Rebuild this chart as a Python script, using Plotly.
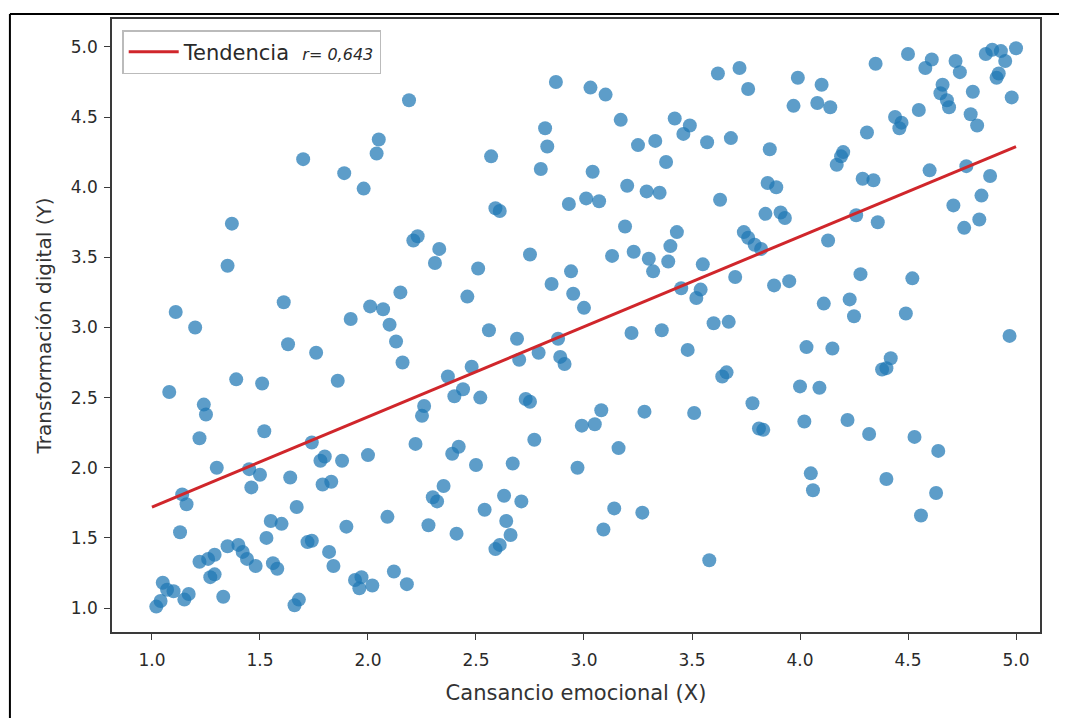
import plotly.graph_objects as go

# Scatter data (Cansancio emocional X, Transformación digital Y)
x_vals = [
    1.02, 1.04, 1.05, 1.07, 1.10, 1.15, 1.17, 1.08, 1.11, 1.13, 1.14, 1.16, 1.20, 1.22, 1.24, 1.25,
    1.22, 1.26, 1.27, 1.29, 1.29, 1.30, 1.33, 1.35, 1.37, 1.35, 1.39, 1.40, 1.42, 1.44, 1.45, 1.46,
    1.48, 1.50, 1.51, 1.52,
    1.53, 1.55, 1.56, 1.58, 1.60, 1.61, 1.63, 1.64, 1.66, 1.68, 1.67, 1.70, 1.72, 1.74, 1.74, 1.76,
    1.78, 1.80, 1.79, 1.83, 1.82, 1.84, 1.86, 1.88, 1.89, 1.90, 1.92, 1.94, 1.96, 1.97, 1.98, 2.00,
    2.01, 2.02, 2.04, 2.05, 2.07, 2.09, 2.10, 2.12, 2.13, 2.15, 2.16, 2.18, 2.19, 2.21, 2.23, 2.22,
    2.25, 2.26, 2.28, 2.30, 2.32, 2.31, 2.33, 2.35, 2.37, 2.39, 2.40, 2.41, 2.42, 2.44, 2.46, 2.48,
    2.50, 2.51,
    2.52, 2.54, 2.56, 2.57, 2.59, 2.61, 2.59, 2.61, 2.63, 2.64, 2.66, 2.67, 2.69, 2.70, 2.71, 2.73,
    2.75, 2.75, 2.77, 2.79, 2.80, 2.82, 2.83, 2.85, 2.87, 2.88, 2.89, 2.91, 2.93, 2.94, 2.95, 2.97,
    2.99,
    3.00, 3.01, 3.03, 3.04, 3.05, 3.07, 3.08, 3.09, 3.10, 3.13, 3.14, 3.16, 3.17, 3.19, 3.20, 3.22,
    3.23, 3.25, 3.27, 3.28, 3.29, 3.30, 3.32, 3.33, 3.35, 3.36, 3.38, 3.39, 3.40, 3.42, 3.43, 3.45,
    3.46, 3.48, 3.49,
    3.51, 3.52, 3.54, 3.55, 3.57, 3.58, 3.60, 3.62, 3.63, 3.64, 3.66, 3.67, 3.68, 3.70, 3.72, 3.74,
    3.76, 3.76, 3.78, 3.79, 3.81, 3.83, 3.82, 3.84, 3.85, 3.86, 3.88, 3.89, 3.91, 3.93, 3.95, 3.97,
    3.99,
    4.00, 4.02, 4.03, 4.05, 4.06, 4.08, 4.09, 4.10, 4.11, 4.13, 4.14, 4.15, 4.17, 4.19, 4.20, 4.22,
    4.23, 4.25, 4.26, 4.28, 4.29, 4.31, 4.32, 4.34, 4.35, 4.36, 4.38, 4.40, 4.40, 4.42, 4.44, 4.46,
    4.47, 4.49, 4.50,
    4.52, 4.53, 4.55, 4.56, 4.58, 4.60, 4.61, 4.63, 4.64, 4.65, 4.66, 4.68, 4.69, 4.71, 4.72, 4.74,
    4.76, 4.77, 4.79, 4.80, 4.82, 4.83, 4.84, 4.86, 4.88, 4.89, 4.91, 4.92, 4.93, 4.95, 4.97, 4.98,
    5.00,
]
y_vals = [
    1.01, 1.05, 1.18, 1.13, 1.12, 1.06, 1.10, 2.54, 3.11, 1.54, 1.81, 1.74, 3.00, 2.21, 2.45, 2.38,
    1.33, 1.35, 1.22, 1.24, 1.38, 2.00, 1.08, 3.44, 3.74, 1.44, 2.63, 1.45, 1.40, 1.35, 1.99, 1.86,
    1.30, 1.95, 2.60, 2.26,
    1.50, 1.62, 1.32, 1.28, 1.60, 3.18, 2.88, 1.93, 1.02, 1.06, 1.72, 4.20, 1.47, 1.48, 2.18, 2.82,
    2.05, 2.08, 1.88, 1.90, 1.40, 1.30, 2.62, 2.05, 4.10, 1.58, 3.06, 1.20, 1.14, 1.22, 3.99, 2.09,
    3.15, 1.16, 4.24, 4.34, 3.13, 1.65, 3.02, 1.26, 2.90, 3.25, 2.75, 1.17, 4.62, 3.62, 3.65, 2.17,
    2.37, 2.44, 1.59, 1.79, 1.76, 3.46, 3.56, 1.87, 2.65, 2.10, 2.51, 1.53, 2.15, 2.56, 3.22, 2.72,
    2.02, 3.42,
    2.50, 1.70, 2.98, 4.22, 1.42, 1.45, 3.85, 3.83, 1.80, 1.62, 1.52, 2.03, 2.92, 2.77, 1.76, 2.49,
    2.47, 3.52, 2.20, 2.82, 4.13, 4.42, 4.29, 3.31, 4.75, 2.92, 2.79, 2.74, 3.88, 3.40, 3.24, 2.00,
    2.30,
    3.14, 3.92, 4.71, 4.11, 2.31, 3.90, 2.41, 1.56, 4.66, 3.51, 1.71, 2.14, 4.48, 3.72, 4.01, 2.96,
    3.54, 4.30, 1.68, 2.40, 3.97, 3.49, 3.40, 4.33, 3.96, 2.98, 4.18, 3.47, 3.58, 4.49, 3.68, 3.28,
    4.38, 2.84, 4.44,
    2.39, 3.21, 3.27, 3.45, 4.32, 1.34, 3.03, 4.81, 3.91, 2.65, 2.68, 3.04, 4.35, 3.36, 4.85, 3.68,
    3.64, 4.70, 2.46, 3.59, 2.28, 2.27, 3.56, 3.81, 4.03, 4.27, 3.30, 4.00, 3.82, 3.78, 3.33, 4.58,
    4.78,
    2.58, 2.33, 2.86, 1.96, 1.84, 4.60, 2.57, 4.73, 3.17, 3.62, 4.57, 2.85, 4.16, 4.22, 4.25, 2.34,
    3.20, 3.08, 3.80, 3.38, 4.06, 4.39, 2.24, 4.05, 4.88, 3.75, 2.70, 2.71, 1.92, 2.78, 4.50, 4.42,
    4.46, 3.10, 4.95,
    3.35, 2.22, 4.55, 1.66, 4.85, 4.12, 4.91, 1.82, 2.12, 4.67, 4.73, 4.62, 4.57, 3.87, 4.90, 4.82,
    3.71, 4.15, 4.52, 4.68, 4.44, 3.77, 3.94, 4.95, 4.08, 4.98, 4.78, 4.81, 4.97, 4.90, 2.94, 4.64,
    4.99,
]

# Trend line end points
trend_x = [1.0, 5.0]
trend_y = [1.72, 4.29]

x_ticks = [1.0, 1.5, 2.0, 2.5, 3.0, 3.5, 4.0, 4.5, 5.0]
y_ticks = [1.0, 1.5, 2.0, 2.5, 3.0, 3.5, 4.0, 4.5, 5.0]

FONT = "DejaVu Sans"

fig = go.Figure()
fig.add_trace(go.Scatter(
    x=x_vals, y=y_vals, mode="markers",
    marker=dict(size=14, color="#1f77b4", opacity=0.72, line=dict(width=0)),
    showlegend=False, hoverinfo="skip",
))
fig.add_trace(go.Scatter(
    x=trend_x, y=trend_y, mode="lines",
    line=dict(color="#d0262b", width=3),
    name="Tendencia  <i><span style='font-size:16px'>r= 0,643</span></i>",
))

axis_common = dict(
    showgrid=False, zeroline=False, showline=True, linecolor="#3a3a3a", linewidth=1.5,
    mirror=True, ticks="outside", ticklen=6, tickwidth=1.2, tickcolor="#3a3a3a",
    tickfont=dict(family=FONT, size=17, color="#2a2a2a"),
)

fig.update_layout(
    width=1059, height=710,
    margin=dict(l=104, r=27, t=9, b=86),
    paper_bgcolor="white", plot_bgcolor="white",
    font=dict(family=FONT, color="#2a2a2a"),
    xaxis=dict(
        range=[0.815, 5.111], tickvals=x_ticks, ticktext=[f"{v:.1f}" for v in x_ticks],
        ticklabelstandoff=6,
        title=dict(text="Cansancio emocional (X)", font=dict(family=FONT, size=21, color="#333"), standoff=16),
        **axis_common,
    ),
    yaxis=dict(
        range=[0.829, 5.199], tickvals=y_ticks, ticktext=[f"{v:.1f}" for v in y_ticks],
        ticklabelstandoff=3,
        title=dict(text="Transformación digital (Y)", font=dict(family=FONT, size=20, color="#333"), standoff=14),
        **axis_common,
    ),
    legend=dict(
        x=0.011, y=0.982, xanchor="left", yanchor="top",
        bgcolor="white", bordercolor="#bbbbbb", borderwidth=1.5,
        font=dict(family=FONT, size=21, color="#2a2a2a"),
        itemwidth=50,
    ),
    shapes=[
        dict(type="line", xref="paper", yref="paper", x0=-0.11, x1=1.03, y0=1.008, y1=1.008,
             line=dict(color="black", width=2)),
        dict(type="line", xref="paper", yref="paper", x0=-0.11, x1=-0.11, y0=1.008, y1=-0.15,
             line=dict(color="black", width=2)),
    ],
)

fig.write_html("out.html")
